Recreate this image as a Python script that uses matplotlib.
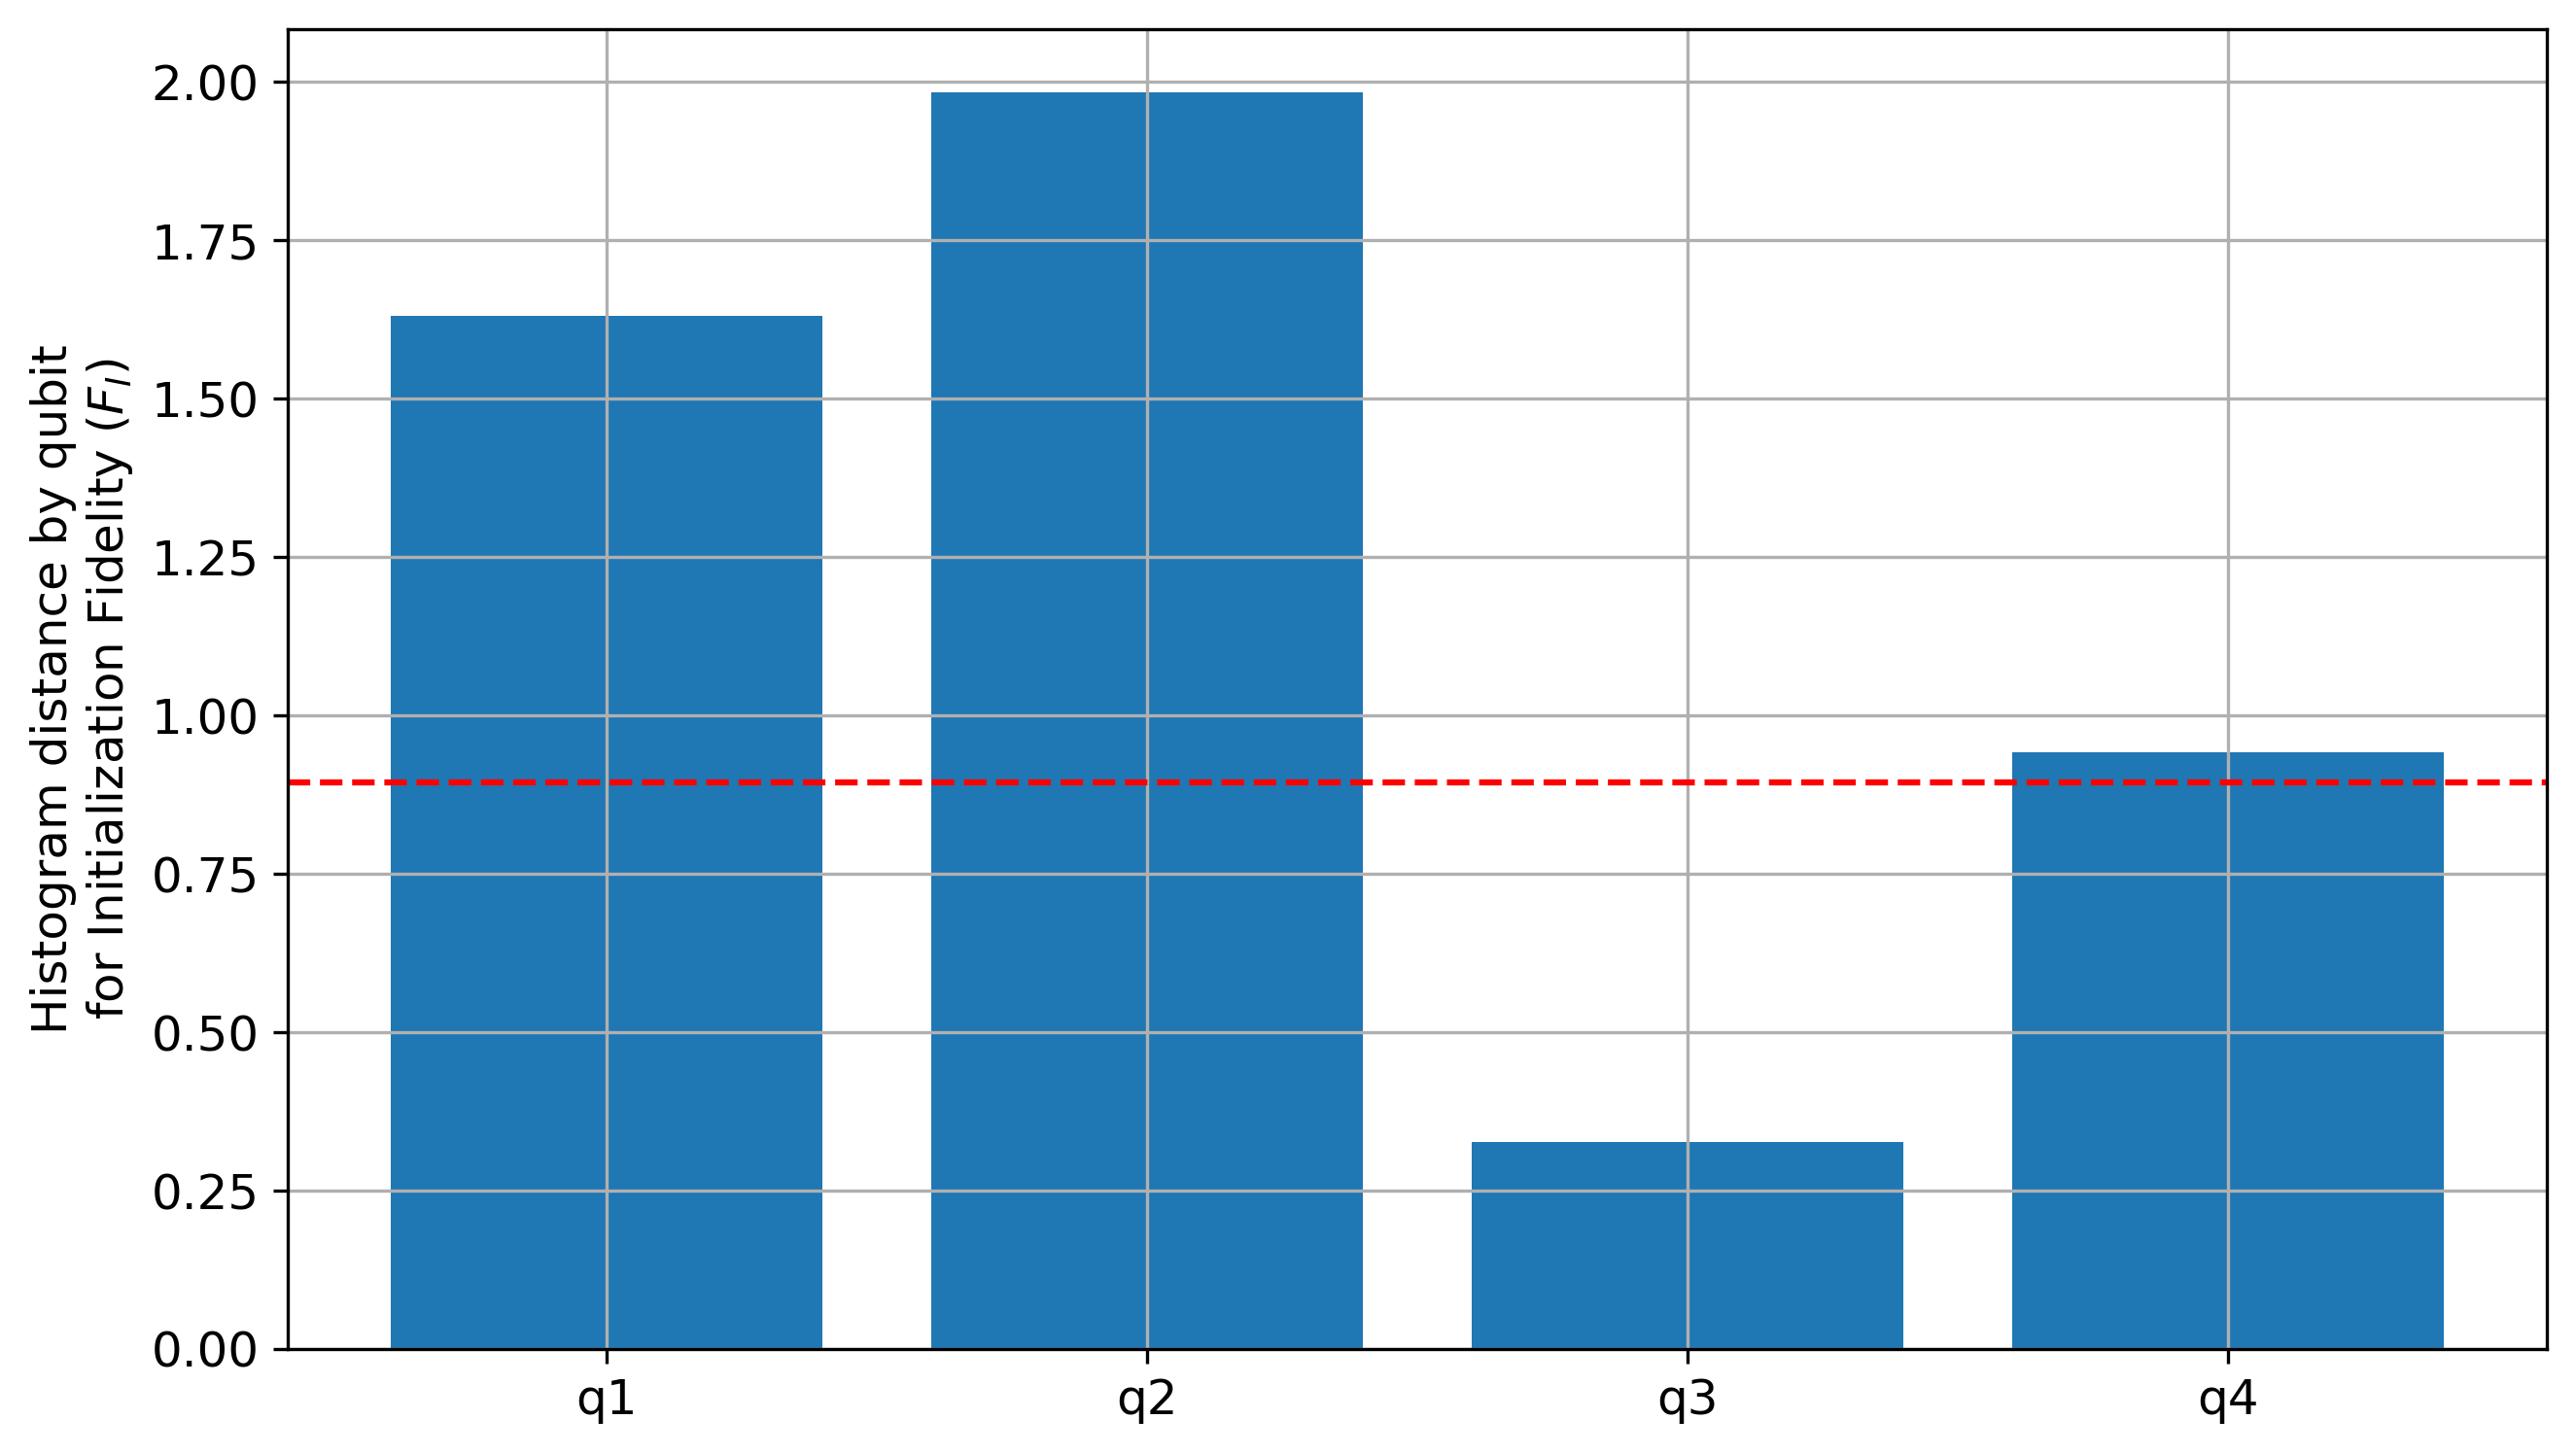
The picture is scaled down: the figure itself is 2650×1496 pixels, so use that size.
import matplotlib
matplotlib.use("Agg")
import matplotlib.pyplot as plt

qubits = ["q1", "q2", "q3", "q4"]
distances = [1.631, 1.984, 0.326, 0.942]
threshold = 0.894

plt.rcParams['font.size'] = 12

fig, ax = plt.subplots(figsize=(2650 / 300, 1496 / 300), dpi=300)
fig.subplots_adjust(left=0.1117, right=0.9887, top=0.980, bottom=0.0722)

ax.bar(qubits, distances)
ax.axhline(threshold, color='r', linestyle='--', linewidth=1.5)
ax.set_ylabel("Histogram distance by qubit\nfor Initialization Fidelity ($F_I$)")
ax.grid(True)

fig.savefig("out.png", dpi=300)
